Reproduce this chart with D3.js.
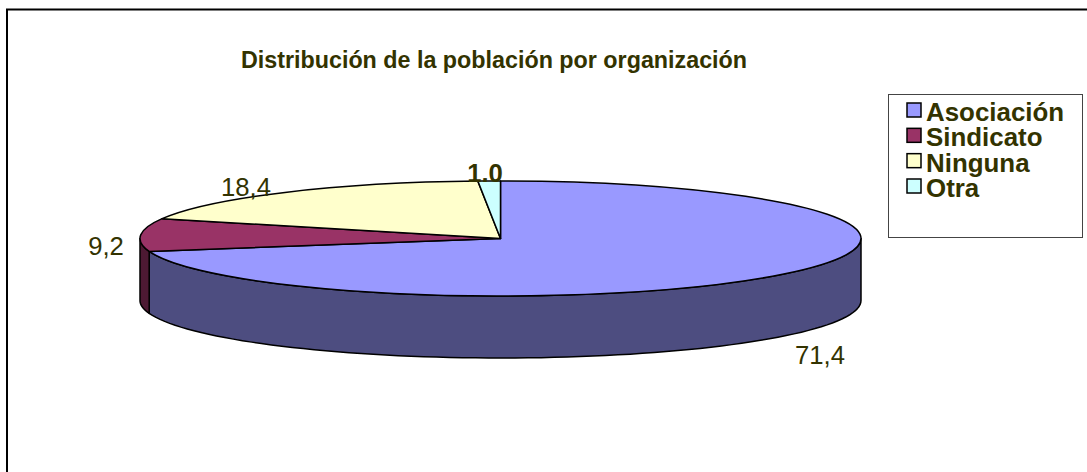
<!DOCTYPE html>
<html>
<head>
<meta charset="utf-8">
<script src="https://cdn.jsdelivr.net/npm/d3@7"></script>
<style>
  html, body { margin: 0; padding: 0; background: #fff; overflow: hidden; }
  svg { display: block; }
  text { font-family: "Liberation Sans", Arial, sans-serif; fill: #333300; }
</style>
</head>
<body>
<div id="chart"></div>
<script>
var categories = ["Asociación", "Sindicato", "Ninguna", "Otra"];
var values     = [71.4, 9.2, 18.4, 1.0];
var labels     = ["71,4", "9,2", "18,4", "1.0"];
var title      = "Distribución de la población por organización";

var topColors  = ["#9999ff", "#993366", "#ffffcc", "#ccffff"];
var sideColors = ["#4d4d80", "#4d1933", "#808066", "#668080"];

var width = 1087, height = 472;
var cx = 500.5, cy = 238.5, rx = 360.5, ry = 57.5, depth = 62;

var svg = d3.select("#chart").append("svg")
    .attr("width", width)
    .attr("height", height);

// outer frame, right and bottom edges fall outside the picture
svg.append("rect")
    .attr("x", 7).attr("y", 9.5)
    .attr("width", 1100).attr("height", 480)
    .attr("fill", "#fff")
    .attr("stroke", "#000")
    .attr("stroke-width", 2);

svg.append("text")
    .attr("x", 494).attr("y", 68)
    .attr("text-anchor", "middle")
    .style("font-size", "23.3px")
    .style("font-weight", "bold")
    .text(title);

var pie = d3.pie().sort(null).value(function(d) { return d; });
var slices = pie(values);

// flatten the circle to an ellipse
function px(a) { return cx + rx * Math.sin(a); }
function py(a) { return cy - ry * Math.cos(a); }

// side walls, only the front half of the ellipse can be seen
var line = d3.line().x(function(d) { return d[0]; }).y(function(d) { return d[1]; });

function wall(a0, a1) {
  var top = [], bottom = [];
  var n = 80;
  for (var i = 0; i <= n; i++) {
    var a = a0 + (a1 - a0) * i / n;
    top.push([px(a), py(a)]);
    bottom.unshift([px(a), py(a) + depth]);
  }
  return line(top.concat(bottom)) + "Z";
}

var front0 = Math.PI / 2, front1 = Math.PI * 1.5;

svg.append("g").selectAll("path")
    .data(slices.filter(function(d) { return d.endAngle > front0 && d.startAngle < front1; }))
  .enter().append("path")
    .attr("d", function(d) {
      return wall(Math.max(d.startAngle, front0), Math.min(d.endAngle, front1));
    })
    .attr("fill", function(d) { return sideColors[d.index]; })
    .attr("stroke", "#000")
    .attr("stroke-width", 1.5)
    .attr("stroke-linejoin", "round");

// top of the pie
var arc = d3.arc().innerRadius(0).outerRadius(rx);

svg.append("g")
    .attr("transform", "translate(" + cx + "," + cy + ") scale(1," + (ry / rx) + ")")
  .selectAll("path")
    .data(slices)
  .enter().append("path")
    .attr("d", arc)
    .attr("fill", function(d) { return topColors[d.index]; })
    .attr("stroke", "#000")
    .attr("stroke-width", 1.5)
    .attr("stroke-linejoin", "round")
    .attr("vector-effect", "non-scaling-stroke");

// value labels
var labelX = [820, 106, 246, 485];
var labelY = [364, 255, 196, 182];

svg.append("g").selectAll("text")
    .data(labels)
  .enter().append("text")
    .attr("x", function(d, i) { return labelX[i]; })
    .attr("y", function(d, i) { return labelY[i]; })
    .attr("text-anchor", "middle")
    .style("font-size", "25.7px")
    .style("font-weight", function(d, i) { return i == 3 ? "bold" : "normal"; })
    .text(function(d) { return d; });

// legend
svg.append("rect")
    .attr("x", 888.5).attr("y", 94.5)
    .attr("width", 194).attr("height", 143)
    .attr("fill", "#fff")
    .attr("stroke", "#444")
    .attr("stroke-width", 1);

var legendY = d3.scalePoint().domain(categories).range([121, 197]);

var legend = svg.append("g").selectAll("g")
    .data(categories)
  .enter().append("g");

legend.append("rect")
    .attr("x", 907).attr("y", function(d) { return legendY(d) - 18; })
    .attr("width", 14).attr("height", 14)
    .attr("fill", function(d, i) { return topColors[i]; })
    .attr("stroke", "#000")
    .attr("stroke-width", 1.5);

legend.append("text")
    .attr("x", 926).attr("y", function(d) { return legendY(d); })
    .style("font-size", "25.9px")
    .style("font-weight", "bold")
    .text(function(d) { return d; });
</script>
</body>
</html>
